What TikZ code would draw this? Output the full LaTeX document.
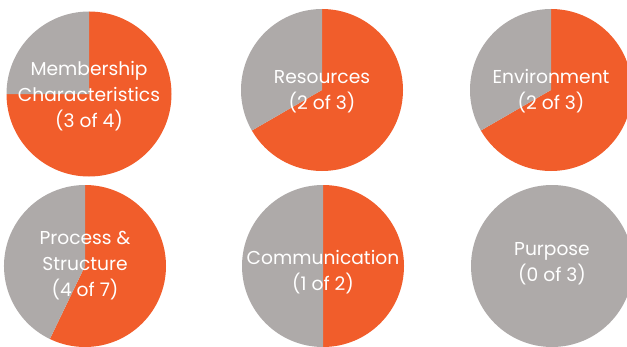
\documentclass[tikz,border=0pt]{standalone}
\usepackage{fontspec}
\setmainfont{Poppins}
\usepackage{xcolor}
\definecolor{pieorange}{RGB}{241,93,43}
\definecolor{piegrey}{RGB}{174,170,169}

\begin{document}
\begin{tikzpicture}[x=0.75pt,y=0.75pt,yscale=-1,xscale=1,
    piefont/.style={anchor=center,inner sep=0.75pt,text=white,align=center,
      font=\fontsize{14}{19.5}\selectfont}]
    \useasboundingbox (0,0) rectangle (627,346);
    \clip (0,0) rectangle (627,346);

    %Shape: Pie [id:membership]
    \fill [color=pieorange] (89,94) -- ++(-90:82.5) arc (-90:180:82.5) -- cycle ;
    \fill [color=piegrey] (89,94) -- ++(180:82.5) arc (180:270:82.5) -- cycle ;
    %Shape: Pie [id:resources]
    \fill [color=pieorange] (322,90) -- ++(-90:81) arc (-90:150:81) -- cycle ;
    \fill [color=piegrey] (322,90) -- ++(150:81) arc (150:270:81) -- cycle ;
    %Shape: Pie [id:environment]
    \fill [color=pieorange] (551,90) -- ++(-90:81) arc (-90:150:81) -- cycle ;
    \fill [color=piegrey] (551,90) -- ++(150:81) arc (150:270:81) -- cycle ;
    %Shape: Pie [id:process]
    \fill [color=pieorange] (85,266) -- ++(-90:81) arc (-90:115.71:81) -- cycle ;
    \fill [color=piegrey] (85,266) -- ++(115.71:81) arc (115.71:270:81) -- cycle ;
    %Shape: Pie [id:communication]
    \fill [color=pieorange] (323,266) -- ++(-90:81) arc (-90:90:81) -- cycle ;
    \fill [color=piegrey] (323,266) -- ++(90:81) arc (90:270:81) -- cycle ;
    %Shape: Circle [id:purpose]
    \fill [color=piegrey] (552,266) circle (81) ;

    % Text Node
    \node [piefont] (membership) at (89,96) {Membership\\Characteristics\\(3 of 4)};
    % Text Node
    \node [piefont] (resources) at (322,92) {Resources\\(2 of 3)};
    % Text Node
    \node [piefont] (environment) at (551,91) {Environment\\(2 of 3)};
    % Text Node
    \node [piefont] (process) at (85,266) {Process \&\\Structure\\(4 of 7)};
    % Text Node
    \node [piefont] (communication) at (323,272) {Communication\\(1 of 2)};
    % Text Node
    \node [piefont] (purpose) at (552,264) {Purpose\\(0 of 3)};

\end{tikzpicture}
\end{document}
